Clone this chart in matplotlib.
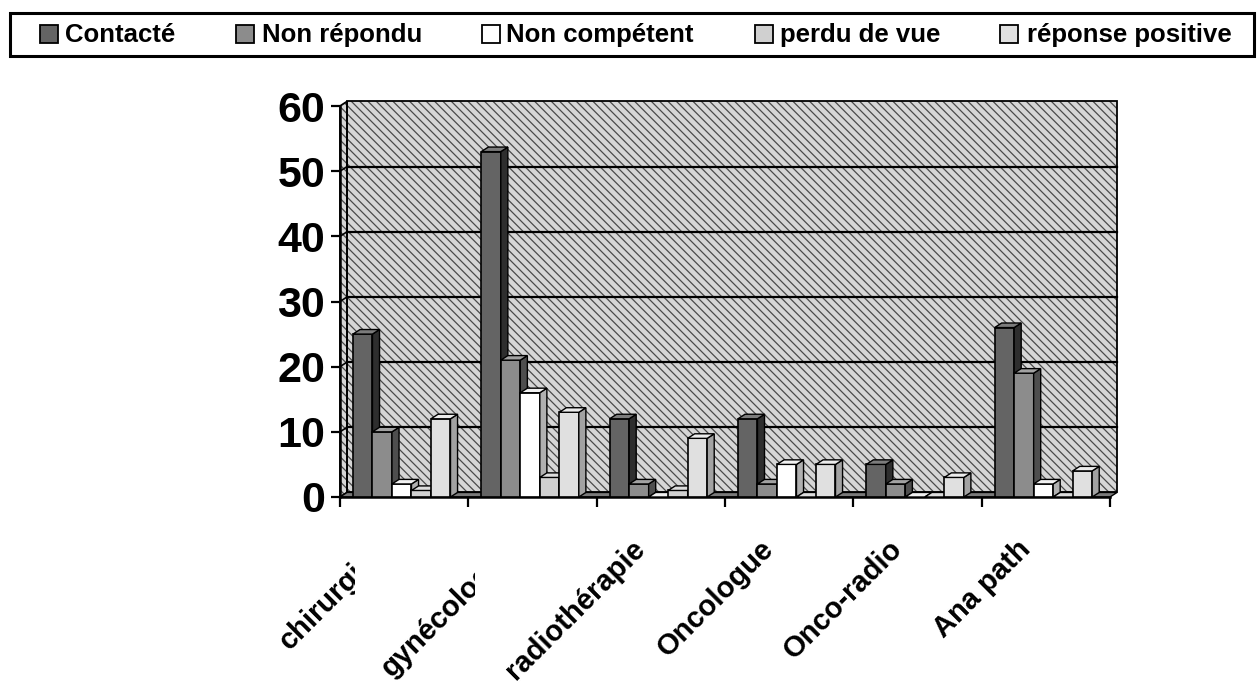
import numpy as np
import matplotlib.pyplot as plt
from matplotlib.patches import Polygon, Rectangle
from matplotlib.transforms import Bbox, TransformedBbox, ScaledTranslation, blended_transform_factory

plt.rcParams['font.family'] = 'Liberation Sans'
plt.rcParams['font.weight'] = 'bold'
plt.rcParams['hatch.linewidth'] = 0.9

# Spécialités et réponses
categories = ['chirurgien', 'gynécologue', 'radiothérapie', 'Oncologue', 'Onco-radio', 'Ana path']
series = ['Contacté', 'Non répondu', 'Non compétent', 'perdu de vue', 'réponse positive']
contacte = [25, 53, 12, 12, 5, 26]
non_repondu = [10, 21, 2, 2, 2, 19]
non_competent = [2, 16, 0, 5, 0, 2]
perdu_de_vue = [1, 3, 1, 0, 0, 0]
reponse_positive = [12, 13, 9, 5, 3, 4]
yticks = [0, 10, 20, 30, 40, 50, 60]

data = [contacte, non_repondu, non_competent, perdu_de_vue, reponse_positive]
c_front = ['#646464', '#8c8c8c', '#ffffff', '#d0d0d0', '#e0e0e0']
c_side = ['#2e2e2e', '#4e4e4e', '#b0b0b0', '#959595', '#a2a2a2']
c_top = ['#7c7c7c', '#a2a2a2', '#f2f2f2', '#dddddd', '#ececec']

W, H = 1258, 688
fig = plt.figure(figsize=(W / 100, H / 100), dpi=100)


def fx(px):
    return px / W


def fy(py):
    return 1 - py / H


ax = fig.add_axes([fx(340), fy(497), fx(1110) - fx(340), fy(106) - fy(497)])
ax.set_xlim(0, len(categories))
ax.set_ylim(0, 60)
ax.patch.set_visible(False)

# profondeur de la perspective (en unités de données)
dx, dy = 0.055, 0.7
bar_w = 0.152
off = 0.101
ncat = len(categories)

# murs du fond et de gauche, hachurés
walls = [
    [(dx, dy), (ncat + dx, dy), (ncat + dx, 60 + dy), (dx, 60 + dy)],
    [(0, 0), (dx, dy), (dx, 60 + dy), (0, 60)],
]
for pts in walls:
    ax.add_patch(Polygon(pts, closed=True, facecolor='#d6d6d6', edgecolor='none', zorder=1, clip_on=False))
    ax.add_patch(Polygon(pts, closed=True, facecolor='none', edgecolor='#4a4a4a', lw=0, hatch='\\\\\\\\',
                         zorder=1.1, clip_on=False))
    ax.add_patch(Polygon(pts, closed=True, facecolor='none', edgecolor='black', lw=1.3, zorder=1.3,
                         clip_on=False))

# plancher
ax.add_patch(Polygon([(0, 0), (ncat, 0), (ncat + dx, dy), (dx, dy)], closed=True,
                     facecolor='#7a7a7a', edgecolor='black', lw=1.0, zorder=1.5, clip_on=False))

# quadrillage sur les murs
for k in yticks[1:-1]:
    ax.plot([dx, ncat + dx], [k + dy, k + dy], color='black', lw=1.6, zorder=2, clip_on=False)
    ax.plot([0, dx], [k, k + dy], color='black', lw=1.2, zorder=2, clip_on=False)

# barres 3D : face avant, côté, dessus
x = np.arange(ncat)
for j, vals in enumerate(data):
    z = 3 + j
    bars = ax.bar(x + off + j * bar_w, vals, width=bar_w, align='edge', color=c_front[j],
                  edgecolor='black', lw=1.2, zorder=z)
    for rect in bars:
        x0 = rect.get_x()
        x1 = x0 + rect.get_width()
        h = rect.get_height()
        ax.add_patch(Polygon([(x1, 0), (x1 + dx, dy), (x1 + dx, h + dy), (x1, h)], closed=True,
                             facecolor=c_side[j], edgecolor='black', lw=1.0, zorder=z))
        ax.add_patch(Polygon([(x0, h), (x1, h), (x1 + dx, h + dy), (x0 + dx, h + dy)], closed=True,
                             facecolor=c_top[j], edgecolor='black', lw=1.0, zorder=z, clip_on=False))

for s in ['top', 'right']:
    ax.spines[s].set_visible(False)
for s in ['left', 'bottom']:
    ax.spines[s].set_linewidth(1.8)
    ax.spines[s].set_zorder(2.5)

ax.set_yticks(yticks)
ax.tick_params(axis='y', direction='out', length=6.5, width=1.6, pad=4.3, labelsize=31)
ax.set_xticks(np.arange(ncat + 1))
ax.set_xticklabels([])
ax.tick_params(axis='x', direction='out', length=7, width=1.6)

# étiquettes des catégories, inclinées à 45°
lab_tr = blended_transform_factory(ax.transData, ax.transAxes) + \
    ScaledTranslation(-10 / 100, -38 / 100, fig.dpi_scale_trans)
clip_px = {0: 355, 1: 475}
for i, lab in enumerate(categories):
    t = ax.text(i + 0.5, 0, lab, transform=lab_tr, rotation=45, ha='right', va='top',
                fontsize=21, fontweight='bold')
    if i in clip_px:
        t.set_clip_box(TransformedBbox(Bbox([[0, 0], [fx(clip_px[i]), 1]]), fig.transFigure))
        t.set_clip_on(True)

# légende encadrée en haut
fig.add_artist(Rectangle((fx(10), fy(56)), fx(1254) - fx(10), fy(13) - fy(56), fill=False,
                         edgecolor='black', lw=2.2, transform=fig.transFigure))
sq_x = [40, 236, 482, 755, 1000]
txt_x = [65, 262, 506, 780, 1027]
sq = 18
for j, name in enumerate(series):
    fig.add_artist(Rectangle((fx(sq_x[j]), fy(34 + sq / 2)), sq / W, sq / H, facecolor=c_front[j],
                             edgecolor='black', lw=1.3, transform=fig.transFigure))
    fig.text(fx(txt_x[j]), fy(35), name, ha='left', va='center', fontsize=18.5, fontweight='bold')

fig.savefig('out.png', dpi=100)
